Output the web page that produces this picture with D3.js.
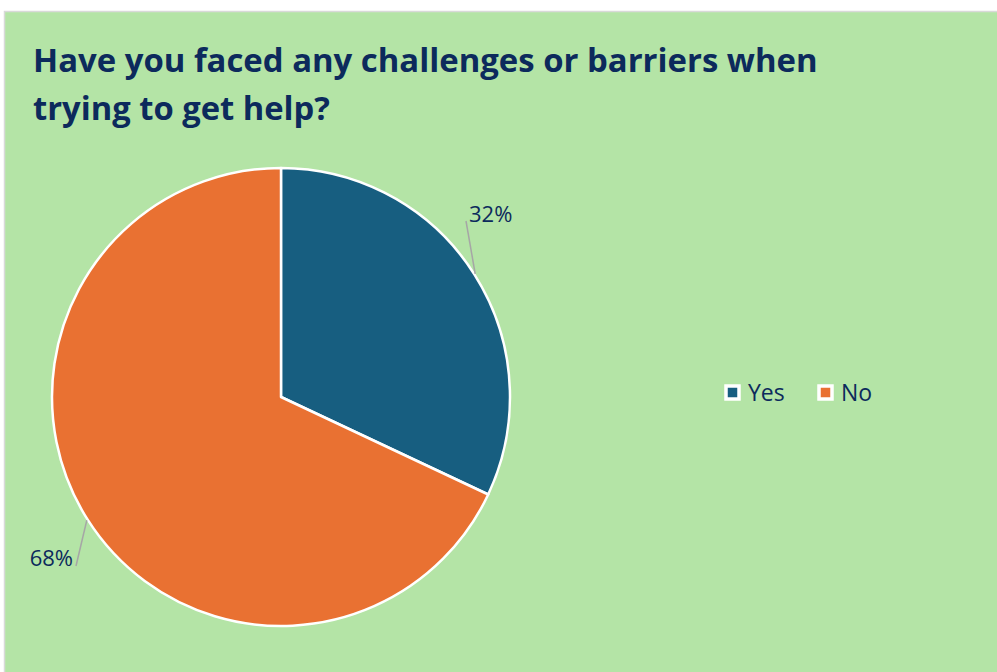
<!DOCTYPE html>
<html>
<head>
<meta charset="utf-8">
<script src="https://cdn.jsdelivr.net/npm/d3@7"></script>
<style>
  html, body { margin: 0; padding: 0; background: #ffffff; }
  svg { display: block; }
</style>
</head>
<body>
<svg id="chart" width="997" height="672"></svg>
<script>
// Survey responses
const categories = ["Yes", "No"];
const values = [32, 68];
const colors = ["#175e80", "#e97132"];
const titleLines = ["Have you faced any challenges or barriers when", "trying to get help?"];

const svg = d3.select("#chart");
const W = 997, H = 672;
const ink = "#0c2a5c";

// chart area frame
svg.append("rect")
  .attr("x", 4.5).attr("y", 11.5)
  .attr("width", W + 10).attr("height", H + 10)
  .attr("fill", "#b4e4a6")
  .attr("stroke", "#d9d9d9").attr("stroke-width", 1.5);

// title, fitted to its measured width
const title = svg.append("g");
const titleTargets = [785, 297];
titleLines.forEach((t, i) => {
  const txt = title.append("text")
    .attr("x", 33).attr("y", 72 + i * 48)
    .attr("fill", ink)
    .attr("font-family", "'Open Sans', sans-serif")
    .attr("font-weight", 700)
    .attr("font-size", 30)
    .text(t);
  const w = txt.node().getComputedTextLength();
  txt.attr("font-size", 30 * titleTargets[i] / w);
});

// pie
const cx = 281, cy = 397, r = 229;
const pie = d3.pie().sort(null).value(d => d)(values);
const arc = d3.arc().innerRadius(0).outerRadius(r);
const g = svg.append("g").attr("transform", `translate(${cx},${cy})`);

g.selectAll("path.slice")
  .data(pie)
  .join("path")
  .attr("class", "slice")
  .attr("d", arc)
  .attr("fill", (d, i) => colors[i])
  .attr("stroke", "#ffffff")
  .attr("stroke-width", 2.5)
  .attr("stroke-linejoin", "round");

// percentage labels with leader lines from each slice's mid-angle
const fmt = v => v + "%";
const labelSpec = [
  { lx: 466, ly: 221, tx: 469, ty: 222, anchor: "start" },
  { lx: 76, ly: 566, tx: 73, ty: 566, anchor: "end" }
];
pie.forEach((d, i) => {
  const s = labelSpec[i];
  const ang = (d.startAngle + d.endAngle) / 2;
  const px = cx + Math.sin(ang) * (r + 1);
  const py = cy - Math.cos(ang) * (r + 1);
  svg.append("line")
    .attr("x1", px).attr("y1", py)
    .attr("x2", s.lx).attr("y2", s.ly)
    .attr("stroke", "#a6a6a6").attr("stroke-width", 1.5);
  svg.append("text")
    .attr("x", s.tx).attr("y", s.ty)
    .attr("text-anchor", s.anchor)
    .attr("fill", ink)
    .attr("font-family", "'Open Sans', sans-serif")
    .attr("font-size", 22)
    .text(fmt(values[i]));
});

// legend
const legendX = [726, 819];
const leg = svg.append("g");
categories.forEach((c, i) => {
  leg.append("rect")
    .attr("x", legendX[i]).attr("y", 386)
    .attr("width", 13).attr("height", 13)
    .attr("fill", colors[i])
    .attr("stroke", "#ffffff").attr("stroke-width", 3.5);
  leg.append("text")
    .attr("x", legendX[i] + 22).attr("y", 401)
    .attr("fill", ink)
    .attr("font-family", "'Open Sans', sans-serif")
    .attr("font-size", 23)
    .text(c);
});
</script>
</body>
</html>
